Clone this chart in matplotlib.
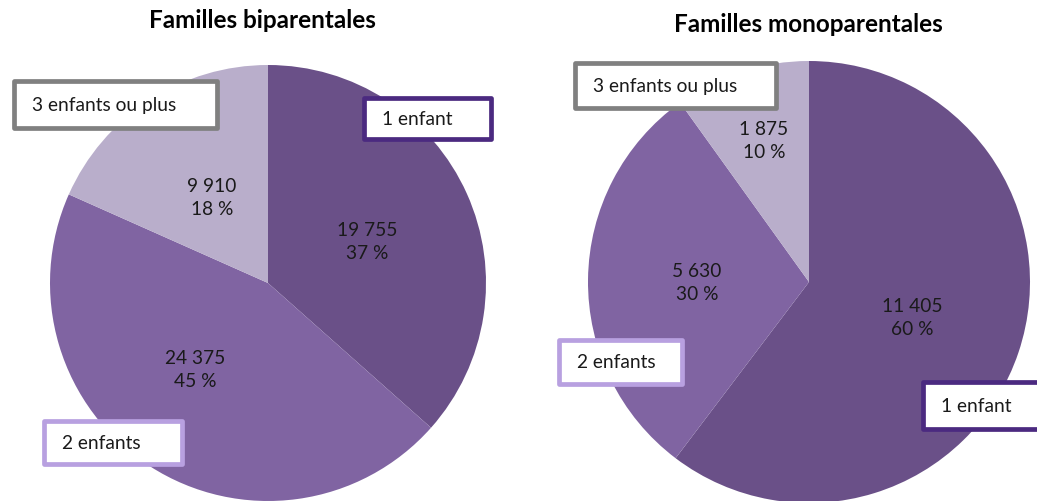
import matplotlib.pyplot as plt
from matplotlib.patches import Rectangle

# Data
categories = ["1 enfant", "2 enfants", "3 enfants ou plus"]
biparentales = [19755, 24375, 9910]
monoparentales = [11405, 5630, 1875]
pct_bi = [37, 45, 18]
pct_mono = [60, 30, 10]
titles = ["Familles biparentales", "Familles monoparentales"]

slice_colors = ["#6a5088", "#8064a2", "#b9aecb"]
box_colors = ["#4b2a80", "#b8a0e0", "#808080"]

W, H = 1037, 502
plt.rcParams['font.family'] = ['Lato', 'DejaVu Sans']

fig = plt.figure(figsize=(W / 100, H / 100), dpi=100)
ax = fig.add_axes([0, 0, 1, 1])


def fmt(v):
    return f"{v:,}".replace(",", " ")


def draw_pie(values, pcts, cx, cy, r, label_pos, boxes):
    ax.pie(values, colors=slice_colors, startangle=90, counterclock=False,
           center=(cx, H - cy), radius=r, wedgeprops=dict(linewidth=0))
    for v, p, (lx, ly) in zip(values, pcts, label_pos):
        ax.text(lx, H - ly, f"{fmt(v)}\n{p} %", ha="center", va="center",
                fontsize=13.8, linespacing=1.4, color="#1a1a1a")
    for cat, col, (x0, y0, x1, y1) in zip(categories, box_colors, boxes):
        ax.add_patch(Rectangle((x0, H - y1), x1 - x0, y1 - y0, facecolor="white",
                               edgecolor=col, lw=3.4, joinstyle="round", zorder=5))
        ax.text(x0 + 18, H - (y0 + y1) / 2, cat, ha="left", va="center",
                fontsize=13.8, color="#1a1a1a", zorder=6)


draw_pie(biparentales, pct_bi, 268, 284, 218,
         [(367, 242), (195, 370), (212, 198)],
         [(364, 99, 491, 140), (44, 422, 182, 465), (14, 82, 217, 129)])
draw_pie(monoparentales, pct_mono, 809, 283, 221,
         [(912, 318), (697, 283), (764, 141)],
         [(923, 383, 1045, 430), (559, 341, 682, 385), (575, 64, 776, 109)])

ax.text(262, H - 21, titles[0], ha="center", va="center", fontsize=17.5, fontweight="bold")
ax.text(808, H - 24, titles[1], ha="center", va="center", fontsize=17.5, fontweight="bold")

ax.set_xlim(0, W)
ax.set_ylim(0, H)
ax.set_aspect("auto")
ax.axis("off")

fig.savefig("out.png", dpi=100)
